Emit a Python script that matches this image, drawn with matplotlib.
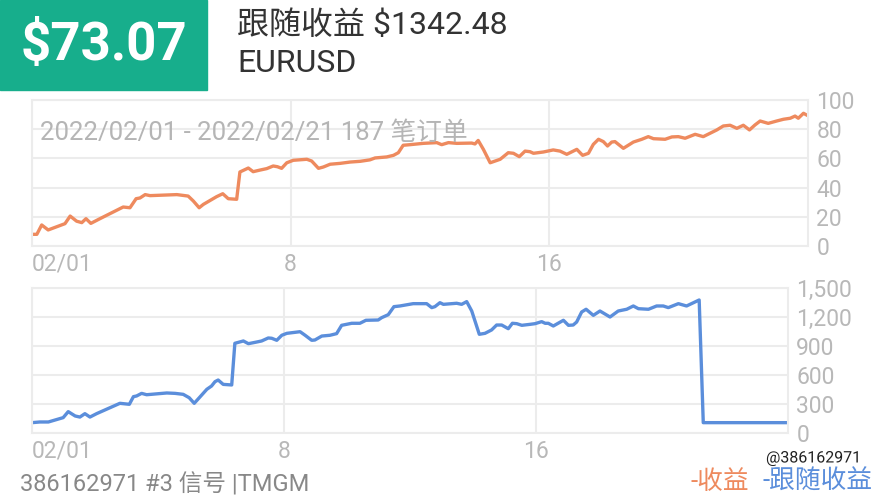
import matplotlib.pyplot as plt
import matplotlib.patheffects as pe
from matplotlib.patches import Rectangle
from matplotlib.ticker import FuncFormatter

plt.rcParams['font.family'] = ['Roboto', 'Noto Sans CJK SC', 'DejaVu Sans']

# data (x = days since 02/01)
profit_days = [0.0, 0.15, 0.30, 0.50, 1.02, 1.18, 1.38, 1.54, 1.67, 1.82, 2.10, 2.82, 3.03, 3.22, 3.34,
               3.50, 3.65, 4.48, 4.83, 4.99, 5.17, 5.30, 5.71, 5.90, 6.07, 6.33, 6.43, 6.69, 6.84, 7.05,
               7.26, 7.46, 7.59, 7.72, 7.88, 8.08, 8.50, 8.65, 8.86, 9.01, 9.22, 9.53, 9.84, 10.15, 10.45,
               10.61, 10.97, 11.18, 11.33, 11.48, 11.69, 12.10, 12.52, 12.67, 12.88, 13.14, 13.60, 13.70,
               13.80, 13.96, 14.17, 14.48, 14.73, 14.89, 15.07, 15.25, 15.40, 15.51, 15.82, 16.12, 16.33,
               16.54, 16.85, 17.03, 17.21, 17.36, 17.52, 17.67, 17.80, 17.93, 18.03, 18.29, 18.60, 18.86,
               19.06, 19.22, 19.58, 19.79, 19.99, 20.20, 20.51, 20.76, 21.18, 21.38, 21.59, 21.80, 22.00,
               22.19, 22.36, 22.52, 22.77, 23.03, 23.24, 23.45, 23.60, 23.70, 23.86, 23.96]
profit = [8, 8, 14.4, 11, 15.3, 20.5, 17, 16, 18.7, 15.5, 18.7, 26.7, 26.2, 32.4, 32.9,
          35.2, 34.5, 35.2, 34.2, 30.8, 26.2, 28.5, 33.8, 35.8, 32.4, 32, 50.7, 53.4, 50.9, 52,
          53, 54.8, 54.3, 53.2, 57, 58.7, 59.4, 58.2, 53.2, 54.1, 56, 56.6, 57.5, 58, 59,
          60.3, 61, 62.1, 63.9, 69, 69.4, 70.3, 70.8, 69.4, 70.8, 70.3, 70.5, 69.9,
          72.3, 66.2, 57, 59.4, 63.9, 63.5, 61.2, 65, 64.6, 63.5, 64.4, 65.8, 65,
          62.8, 66.2, 62.1, 63.5, 69.6, 73.1, 71.5, 68.5, 71.2, 71.5, 66.9, 71.2, 73.1,
          74.9, 73.5, 73.1, 74.7, 74.9, 73.8, 76.5, 74.9, 79.5, 82.2, 82.7, 80.6, 82.7,
          79.5, 82.9, 85.6, 84, 85.6, 86.8, 87.5, 89, 87.5, 90.9, 89.7]

follow_days = [0.0, 0.25, 0.52, 0.99, 1.15, 1.37, 1.52, 1.68, 1.84, 2.05, 2.79, 3.09, 3.22, 3.32, 3.48,
               3.64, 4.28, 4.54, 4.80, 4.99, 5.15, 5.33, 5.55, 5.70, 5.81, 5.91, 6.07, 6.34, 6.44, 6.71,
               6.87, 7.13, 7.29, 7.50, 7.61, 7.77, 7.93, 8.09, 8.51, 8.67, 8.88, 8.98, 9.20, 9.46, 9.67,
               9.83, 10.15, 10.41, 10.60, 10.99, 11.10, 11.31, 11.49, 11.68, 12.10, 12.53, 12.69, 12.79,
               12.95, 13.06, 13.48, 13.64, 13.80, 13.96, 14.20, 14.38, 14.59, 14.75, 14.91, 15.12, 15.25,
               15.39, 15.55, 15.81, 15.97, 16.18, 16.29, 16.39, 16.55, 16.87, 17.03, 17.18, 17.29, 17.45,
               17.59, 17.82, 18.03, 18.35, 18.61, 18.88, 19.09, 19.25, 19.57, 19.83, 20.04, 20.20, 20.52,
               20.78, 21.18, 21.31, 24.0]
follow = [107, 114, 114, 159, 221, 176, 165, 200, 165, 200, 307, 297, 376, 383, 410,
          396, 414, 410, 400, 365, 307, 372, 452, 486, 531, 548, 503, 497, 928, 952,
          924, 941, 952, 983, 980, 959, 1011, 1031, 1048, 1011, 959, 962, 1003, 1011, 1028,
          1114, 1135, 1135, 1166, 1169, 1193, 1224, 1307, 1314, 1338, 1338, 1297, 1307,
          1348, 1331, 1342, 1331, 1359, 1262, 1021, 1031, 1066, 1117, 1117, 1079, 1135,
          1131, 1114, 1124, 1131, 1152, 1135, 1135, 1107, 1166, 1114, 1117, 1148, 1252,
          1280, 1217, 1262, 1200, 1262, 1280, 1314, 1286, 1280, 1314, 1314, 1297, 1338,
          1314, 1376, 107, 107]

x_ticks = [0, 8, 16]
x_labels = ['02/01', '8', '16']
profit_ticks = [0, 20, 40, 60, 80, 100]
follow_ticks = [0, 300, 600, 900, 1200, 1500]

orange = '#EE8A5E'
blue = '#5B8EDB'
grid_c = '#ececec'
tick_c = '#b8b8b8'

fig = plt.figure(figsize=(8.8, 5), dpi=100)

ax1 = fig.add_axes([32/880, 254/500, 776/880, 146/500])
ax2 = fig.add_axes([32/880, 67/500, 756/880, 145/500])


def style(ax, yticks, fmt):
    ax.set_xlim(0, 24)
    ax.set_ylim(yticks[0], yticks[-1])
    ax.set_xticks(x_ticks)
    ax.set_xticklabels(x_labels)
    ax.get_xticklabels()[0].set_ha('left')
    ax.set_yticks(yticks)
    ax.yaxis.set_major_formatter(FuncFormatter(fmt))
    ax.yaxis.tick_right()
    ax.tick_params(axis='y', length=0, pad=6, labelsize=16.5, colors=tick_c)
    ax.tick_params(axis='x', length=0, pad=5, labelsize=16.5, colors=tick_c)
    ax.grid(True, color=grid_c, lw=1.5)
    ax.set_axisbelow(True)
    for s in ax.spines.values():
        s.set_color(grid_c)
        s.set_linewidth(1.5)


ax1.plot(profit_days, profit, color=orange, lw=2.4, solid_joinstyle='round')
style(ax1, profit_ticks, lambda v, p: f'{v:.0f}')

ax2.plot(follow_days, follow, color=blue, lw=2.4, solid_joinstyle='round')
style(ax2, follow_ticks, lambda v, p: f'{v:,.0f}')

# header
fig.patches.append(Rectangle((0, 1 - 90/500), 207/880, 90/500, transform=fig.transFigure,
                             color='#17AE8C', zorder=0))
fig.text(104/880, 1 - 46/500, '$73.07', color='white', fontsize=38, fontweight='bold',
         ha='center', va='center')
fig.text(237/880, 1 - 25/500, '跟随收益 $1342.48', color='#333333', fontsize=23,
         ha='left', va='center')
fig.text(237/880, 1 - 64/500, 'EURUSD', color='#333333', fontsize=23,
         ha='left', va='center')

fig.text(40/880, 1 - 133/500, '2022/02/01 - 2022/02/21 187 笔订单', color='#b5b5b5',
         fontsize=18.5, ha='left', va='center')

# footer
fig.text(20/880, 1 - 485/500, '386162971 #3 信号 |TMGM', color='#888888', fontsize=17,
         ha='left', va='center')
fig.text(690/880, 1 - 482/500, '-收益', color=orange, fontsize=18.5, ha='left', va='center')
fig.text(762/880, 1 - 482/500, '-跟随收益', color=blue, fontsize=18.5, ha='left', va='center')
fig.text(766/880, 1 - 458/500, '@386162971', color='#222222', fontsize=11.5, ha='left', va='center',
         path_effects=[pe.withStroke(linewidth=2, foreground='white')])

fig.savefig('out.png', dpi=100)
